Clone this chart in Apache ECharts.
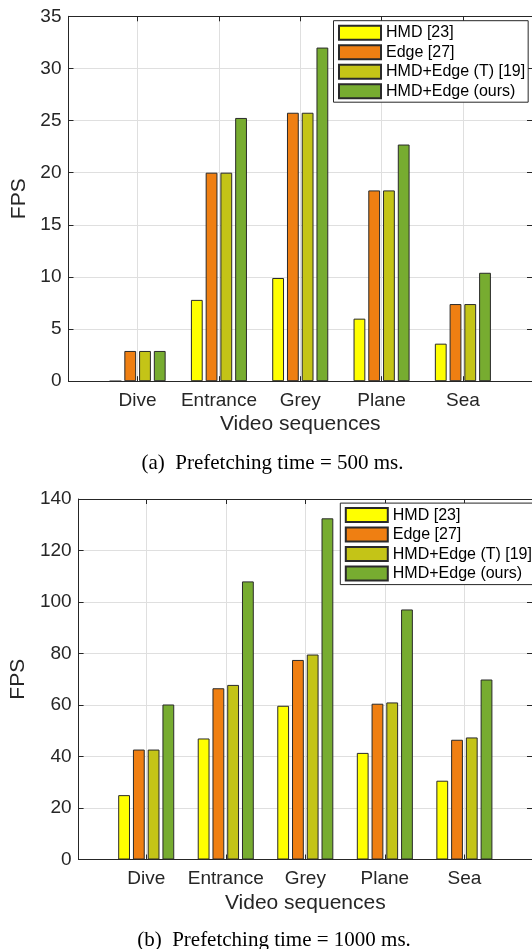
<!DOCTYPE html>
<html>
<head>
<meta charset="utf-8">
<script src="https://cdn.jsdelivr.net/npm/echarts@6/dist/echarts.min.js"></script>
<style>
html,body{margin:0;padding:0;background:#fff;}
#c{width:532px;height:949px;}
</style>
</head>
<body>
<div id="c"></div>
<script>
// ---- data ----
const categories = ['Dive', 'Entrance', 'Grey', 'Plane', 'Sea'];
const seriesNames = ['HMD [23]', 'Edge [27]', 'HMD+Edge (T) [19]', 'HMD+Edge (ours)'];
// (a) Prefetching time = 500 ms
const fps500_hmd   = [0, 7.8, 9.9, 6.0, 3.6];
const fps500_edge  = [2.9, 20.0, 25.75, 18.3, 7.4];
const fps500_edgeT = [2.9, 20.0, 25.75, 18.3, 7.4];
const fps500_ours  = [2.9, 25.25, 32.0, 22.7, 10.4];
// (b) Prefetching time = 1000 ms
const fps1000_hmd   = [25.0, 47.0, 59.7, 41.4, 30.6];
const fps1000_edge  = [42.7, 66.5, 77.5, 60.5, 46.5];
const fps1000_edgeT = [42.7, 67.8, 79.6, 61.0, 47.4];
const fps1000_ours  = [60.2, 108.0, 132.5, 97.1, 69.9];
// y tick settings
const yTicks500 = [0, 5, 10, 15, 20, 25, 30, 35];
const yTicks1000 = [0, 20, 40, 60, 80, 100, 120, 140];
const captions = ['(a)  Prefetching time = 500 ms.', '(b)  Prefetching time = 1000 ms.'];

// ---- style ----
const colors = ['#FFFF00', '#EF7F12', '#C4C417', '#77AC30'];
const axisCol = '#262626';
const gridCol = '#DFDFDF';
const sans = 'Liberation Sans, Arial, Helvetica, sans-serif';
const catPos = categories.map((c, i) => i + 1);

const chart = echarts.init(document.getElementById('c'), null, {renderer: 'canvas'});

function xAxes(gridIndex) {
  return [{
    type: 'value', gridIndex, position: 'bottom', min: 0.15, max: 5.85,
    name: 'Video sequences', nameLocation: 'middle', nameGap: 33,
    nameTextStyle: {fontFamily: sans, fontSize: 21, color: axisCol},
    axisLine: {show: true, onZero: false, lineStyle: {color: axisCol, width: 1}},
    axisTick: {show: true, inside: true, length: 5, customValues: catPos, lineStyle: {color: axisCol}},
    axisLabel: {show: true, customValues: catPos, margin: 10, fontFamily: sans, fontSize: 19, color: axisCol,
      formatter: v => categories[Math.round(v) - 1] || ''},
    splitLine: {show: true, lineStyle: {color: gridCol, width: 1}}
  }, {
    type: 'value', gridIndex, position: 'top', min: 0.15, max: 5.85,
    axisLine: {show: true, onZero: false, lineStyle: {color: axisCol, width: 1}},
    axisTick: {show: true, inside: true, length: 5, customValues: catPos, lineStyle: {color: axisCol}},
    axisLabel: {show: false},
    splitLine: {show: false}
  }];
}
function yAxes(gridIndex, ticks, nameGap) {
  const min = ticks[0], max = ticks[ticks.length - 1], interval = ticks[1] - ticks[0];
  return [{
    type: 'value', gridIndex, position: 'left', min, max, interval,
    name: 'FPS', nameLocation: 'middle', nameGap,
    nameTextStyle: {fontFamily: sans, fontSize: 21, color: axisCol},
    axisLine: {show: true, onZero: false, lineStyle: {color: axisCol, width: 1}},
    axisTick: {show: true, inside: true, length: 5, lineStyle: {color: axisCol}},
    axisLabel: {margin: 7, fontFamily: sans, fontSize: 19, color: axisCol},
    splitLine: {show: true, lineStyle: {color: gridCol, width: 1}}
  }, {
    type: 'value', gridIndex, position: 'right', min, max, interval,
    axisLine: {show: true, onZero: false, lineStyle: {color: axisCol, width: 1}},
    axisTick: {show: true, inside: true, length: 5, lineStyle: {color: axisCol}},
    axisLabel: {show: false},
    splitLine: {show: false}
  }];
}
function barSeries(values, k, xIdx, yIdx) {
  return {
    type: 'bar', name: seriesNames[k], xAxisIndex: xIdx, yAxisIndex: yIdx,
    data: values.map((v, i) => [catPos[i], v]),
    barWidth: 11.8, barGap: '25%',
    itemStyle: {color: colors[k], borderColor: '#2a2a2a', borderWidth: 1},
    emphasis: {disabled: true},
    z: 3
  };
}
const set500 = [fps500_hmd, fps500_edge, fps500_edgeT, fps500_ours];
const set1000 = [fps1000_hmd, fps1000_edge, fps1000_edgeT, fps1000_ours];

const legendBase = {
  orient: 'vertical', itemWidth: 42, itemHeight: 14, itemGap: 3.5,
  icon: 'rect', selectedMode: false,
  padding: [4, 3, 3, 4.5],
  borderColor: axisCol, borderWidth: 1, backgroundColor: '#fff',
  textStyle: {fontFamily: sans, fontSize: 16, color: '#000'},
  data: seriesNames, z: 10
};

const option = {
  animation: false,
  backgroundColor: '#fff',
  grid: [
    {left: 68.5, top: 16.3, width: 467.1, height: 364.9},
    {left: 78, top: 499, width: 462.8, height: 360.5}
  ],
  xAxis: [...xAxes(0), ...xAxes(1)],
  yAxis: [...yAxes(0, yTicks500, 36), ...yAxes(1, yTicks1000, 46)],
  legend: [
    Object.assign({}, legendBase, {left: 333.5, top: 20.7}),
    Object.assign({}, legendBase, {left: 340.3, top: 503.1})
  ],
  series: [
    ...set500.map((v, k) => barSeries(v, k, 0, 0)),
    ...set1000.map((v, k) => barSeries(v, k, 2, 2))
  ],
  graphic: [
    {type: 'text', x: 272.5, y: 463, style: {text: captions[0], fill: '#000', font: '21px "Liberation Serif", "Times New Roman", serif', textAlign: 'center', textVerticalAlign: 'middle'}},
    {type: 'text', x: 274, y: 940, style: {text: captions[1], fill: '#000', font: '21px "Liberation Serif", "Times New Roman", serif', textAlign: 'center', textVerticalAlign: 'middle'}}
  ]
};
chart.setOption(option);
</script>
</body>
</html>
